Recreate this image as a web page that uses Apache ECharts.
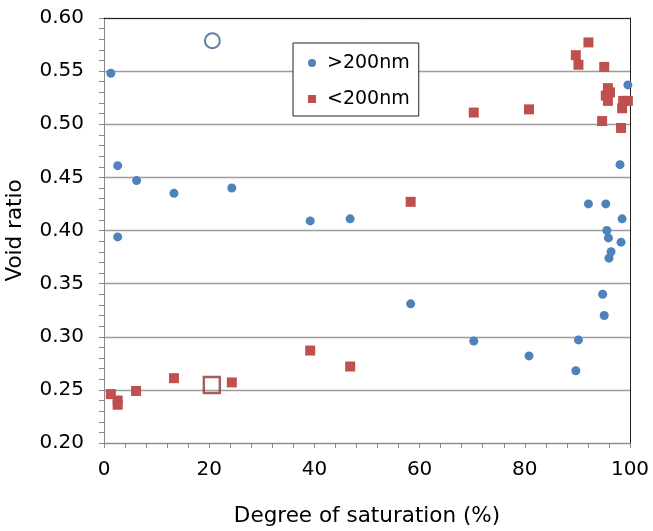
<!DOCTYPE html>
<html>
<head>
<meta charset="utf-8">
<script src="https://cdn.jsdelivr.net/npm/echarts@6/dist/echarts.min.js"></script>
<style>
  html, body { margin: 0; padding: 0; background: #fff; }
  #chart { width: 653px; height: 531px; }
</style>
</head>
<body>
<div id="chart"></div>
<script>
// Degree of saturation (%) and void ratio for the two pore-size groups
const satLarge = [1.3, 2.6, 2.6, 6.2, 13.3, 24.3, 39.2, 46.8, 58.3, 70.3, 80.8, 89.7, 90.2, 92.1, 94.8, 95.1, 95.4, 95.6, 95.9, 96.4, 96.0, 98.1, 98.5, 98.3, 99.6];
const voidLarge = [0.548, 0.461, 0.394, 0.447, 0.435, 0.440, 0.409, 0.411, 0.331, 0.296, 0.282, 0.268, 0.297, 0.425, 0.340, 0.320, 0.425, 0.400, 0.393, 0.380, 0.374, 0.462, 0.411, 0.389, 0.537];

const satSmall = [1.3, 2.6, 2.6, 6.1, 13.3, 24.3, 39.2, 46.8, 58.3, 70.3, 80.8, 89.7, 90.2, 92.1, 94.7, 95.1, 95.8, 96.2, 95.4, 95.8, 98.7, 99.6, 98.5, 98.3];
const voidSmall = [0.246, 0.240, 0.236, 0.249, 0.261, 0.257, 0.287, 0.272, 0.427, 0.511, 0.514, 0.565, 0.556, 0.577, 0.503, 0.554, 0.534, 0.530, 0.527, 0.522, 0.522, 0.522, 0.515, 0.4965];

// Highlighted reference sample (open markers)
const satRefLarge = [20.6];
const voidRefLarge = [0.5786];
const satRefSmall = [20.5];
const voidRefSmall = [0.2546];

const seriesNames = ['>200nm', '<200nm'];

const pairs = (xs, ys) => xs.map((x, i) => [x, ys[i]]);

const FONT = 'DejaVu Sans';
const GREY = '#8a8a8a';
const chart = echarts.init(document.getElementById('chart'), null, { renderer: 'canvas' });

// helper for label-less axes used only for frame lines / fine ticks
const bareAxis = (extra) => Object.assign({
  type: 'value',
  axisLabel: { show: false },
  splitLine: { show: false },
  axisTick: { show: false },
  axisLine: { show: false }
}, extra);

chart.setOption({
  animation: false,
  backgroundColor: '#ffffff',
  textStyle: { fontFamily: FONT, color: '#000' },
  grid: { left: 104, top: 18, width: 526, height: 425, containLabel: false, outerBoundsMode: 'none' },
  legend: {
    data: seriesNames,
    orient: 'vertical',
    left: 293,
    top: 43,
    backgroundColor: '#ffffff',
    borderColor: '#222',
    borderWidth: 1,
    borderRadius: 0,
    padding: [8, 9, 5, 15],
    itemWidth: 8,
    itemHeight: 8,
    itemGap: 12,
    textStyle: { fontFamily: FONT, fontSize: 19, color: '#000', lineHeight: 24, padding: [0, 0, 0, 6] }
  },
  xAxis: [{
    type: 'value',
    min: 0, max: 100, interval: 20,
    name: 'Degree of saturation (%)',
    nameLocation: 'middle',
    nameGap: 62,
    nameTextStyle: { fontFamily: FONT, fontSize: 21.5, color: '#000' },
    axisLine: { show: true, lineStyle: { color: GREY, width: 1 } },
    axisTick: { show: false },
    axisLabel: { fontFamily: FONT, fontSize: 20, color: '#000', margin: 17 },
    splitLine: { show: false }
  },
  bareAxis({ position: 'top', min: 0, max: 100,
    axisLine: { show: true, onZero: false, lineStyle: { color: '#222', width: 1 } } }),
  bareAxis({ position: 'bottom', min: 0, max: 100, interval: 4,
    axisTick: { show: true, length: 5, lineStyle: { color: GREY } } })
  ],
  yAxis: [{
    type: 'value',
    min: 0.2, max: 0.6, interval: 0.05,
    name: 'Void ratio',
    nameLocation: 'middle',
    nameGap: 78,
    nameTextStyle: { fontFamily: FONT, fontSize: 21.5, color: '#000' },
    axisLine: { show: true, lineStyle: { color: GREY, width: 1 } },
    axisTick: { show: false },
    axisLabel: { fontFamily: FONT, fontSize: 20, color: '#000', margin: 20, formatter: v => v.toFixed(2) },
    splitLine: { show: true, lineStyle: { color: '#9c9c9c', width: 1.3 } }
  },
  bareAxis({ position: 'right', min: 0.2, max: 0.6,
    axisLine: { show: true, onZero: false, lineStyle: { color: '#222', width: 1 } } }),
  bareAxis({ position: 'left', min: 0.2, max: 0.6, interval: 0.01,
    axisTick: { show: true, length: 5, lineStyle: { color: GREY } } })
  ],
  series: [
    {
      name: seriesNames[0], type: 'scatter', symbol: 'circle', symbolSize: 9,
      itemStyle: { color: '#4F81BD', opacity: 1 },
      data: pairs(satLarge, voidLarge), z: 3
    },
    {
      name: seriesNames[1], type: 'scatter', symbol: 'rect', symbolSize: 10,
      itemStyle: { color: '#C0504D', opacity: 1 },
      data: pairs(satSmall, voidSmall), z: 2
    },
    {
      name: 'ref-large', type: 'scatter', symbol: 'circle', symbolSize: 15,
      itemStyle: { color: 'rgba(255,255,255,0)', borderColor: '#3A5F95', borderWidth: 2 },
      data: pairs(satRefLarge, voidRefLarge), z: 4
    },
    {
      name: 'ref-small', type: 'scatter', symbol: 'rect', symbolSize: 16,
      itemStyle: { color: 'rgba(255,255,255,0)', borderColor: '#8E3634', borderWidth: 2.4 },
      data: pairs(satRefSmall, voidRefSmall), z: 4
    }
  ]
});
</script>
</body>
</html>
